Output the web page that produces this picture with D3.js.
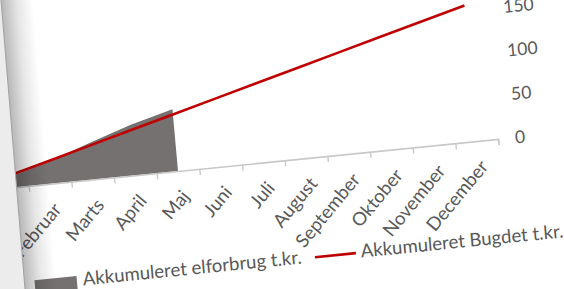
<!DOCTYPE html>
<html>
<head>
<meta charset="utf-8">
<script src="https://cdn.jsdelivr.net/npm/d3@7"></script>
<style>
body { margin: 0; background: #fff; }
svg { display: block; }
text { font-family: Lato, "Liberation Sans", sans-serif; fill: #595959; }
</style>
</head>
<body>
<svg id="chart" width="564" height="289"></svg>
<script>
// data
var months = ['Januar', 'Februar', 'Marts', 'April', 'Maj', 'Juni', 'Juli',
              'August', 'September', 'Oktober', 'November', 'December'];
var forbrug = [11, 25, 42, 58, 71];
var budget = [13, 26, 39, 52, 65, 78, 91, 104, 117, 130, 143, 156];
var yTicks = [0, 50, 100, 150, 200];
var legendNames = ['Akkumuleret elforbrug t.kr.', 'Akkumuleret Bugdet t.kr.'];

var svg = d3.select('#chart');

var W = 512, H = 174;

// the photo is tilted, so the whole chart sits in a skewed group
svg.append('clipPath').attr('id', 'edge')
    .append('polygon').attr('points', '1,0 564,0 564,289 25,289');

var outer = svg.append('g').attr('clip-path', 'url(#edge)');
var g = outer.append('g')
    .attr('transform', 'translate(-14,190.2) matrix(1,-0.1,0.09,1,0,0)');

var x = d3.scalePoint().domain(months).range([0, W]).padding(0.5);
var xb = d3.scaleLinear().domain([0, 12]).range([0, W]);
var y = d3.scaleLinear().domain([0, 200]).range([0, -H]);

// area
var area = d3.area()
    .x(function(d, i) { return x(months[i]); })
    .y0(y(0))
    .y1(function(d) { return y(d); });

g.append('path')
    .datum(forbrug)
    .attr('d', area)
    .attr('fill', '#757171');

// x axis: line + boundary ticks
var xAxis = g.append('g').call(d3.axisBottom(xb).tickValues(d3.range(13)).tickFormat('').tickSizeOuter(0).tickSize(6));
xAxis.selectAll('line').attr('stroke', '#c8c8c8').attr('stroke-width', 1.4);
xAxis.select('.domain').attr('stroke', '#c8c8c8').attr('stroke-width', 1.6);

// month labels
g.append('g').selectAll('text')
    .data(months)
    .enter().append('text')
    .attr('transform', function(d) { return 'translate(' + (x(d) + 10) + ',27) rotate(-45)'; })
    .attr('text-anchor', 'end')
    .attr('font-size', 18.5)
    .text(function(d) { return d; });

// budget line
var line = d3.line()
    .x(function(d, i) { return x(months[i]); })
    .y(function(d) { return y(d); });

g.append('path')
    .datum(budget)
    .attr('d', line)
    .attr('fill', 'none')
    .attr('stroke', '#c00000')
    .attr('stroke-width', 2.6);

// value axis on the right
var yAxis = g.append('g')
    .attr('transform', 'translate(' + W + ',0)')
    .call(d3.axisRight(y).tickValues(yTicks).tickSize(0).tickPadding(17));
yAxis.select('.domain').remove();
yAxis.selectAll('text').attr('font-size', 17.5).attr('fill', '#595959').attr('font-family', 'Lato');

// legend
var leg = g.append('g');
leg.append('rect').attr('x', 40).attr('y', 94).attr('width', 42).attr('height', 16).attr('fill', '#757171');
leg.append('text').attr('x', 88).attr('y', 104).attr('font-size', 18.5).text(legendNames[0]);
leg.append('line').attr('x1', 320).attr('x2', 361).attr('y1', 99).attr('y2', 99)
    .attr('stroke', '#c00000').attr('stroke-width', 2.6);
leg.append('text').attr('x', 366).attr('y', 104).attr('font-size', 18.5).text(legendNames[1]);

// page edge shadow on the left
var defs = svg.append('defs');
var sh = defs.append('linearGradient').attr('id', 'shade');
sh.append('stop').attr('offset', 0).attr('stop-color', '#000').attr('stop-opacity', 0.28);
sh.append('stop').attr('offset', 0.5).attr('stop-color', '#000').attr('stop-opacity', 0.1);
sh.append('stop').attr('offset', 1).attr('stop-color', '#000').attr('stop-opacity', 0);

var edge = svg.append('g').attr('transform', 'translate(1,0) skewX(4.75)');
edge.append('rect').attr('x', -40).attr('y', 0).attr('width', 40).attr('height', 289).attr('fill', '#ececec');
edge.append('rect').attr('x', 0).attr('y', 0).attr('width', 32).attr('height', 289).attr('fill', 'url(#shade)');
edge.append('line').attr('x1', 0).attr('x2', 0).attr('y1', 0).attr('y2', 289)
    .attr('stroke', '#a0a0a0').attr('stroke-width', 1);
</script>
</body>
</html>
